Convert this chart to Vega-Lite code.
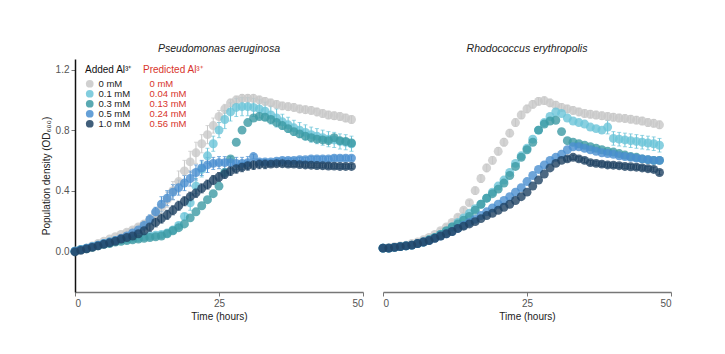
{
"$schema":"https://vega.github.io/schema/vega-lite/v6.json",
"background":"white",
"padding":{"left":41,"top":43,"right":5,"bottom":5},
"config":{"font":"Liberation Sans","view":{"stroke":null},"concat":{"spacing":20}},
"bounds":"flush",
"data":{"values":[
{"s":"P","c":"0 mM","p":"0 mM","t":0,"v":0},{"s":"P","c":"0 mM","p":"0 mM","t":1,"v":0.01},{"s":"P","c":"0 mM","p":"0 mM","t":2,"v":0.02},{"s":"P","c":"0 mM","p":"0 mM","t":3,"v":0.035},{"s":"P","c":"0 mM","p":"0 mM","t":4,"v":0.05},{"s":"P","c":"0 mM","p":"0 mM","t":5,"v":0.065},{"s":"P","c":"0 mM","p":"0 mM","t":6,"v":0.08},{"s":"P","c":"0 mM","p":"0 mM","t":7,"v":0.095},{"s":"P","c":"0 mM","p":"0 mM","t":8,"v":0.11},{"s":"P","c":"0 mM","p":"0 mM","t":9,"v":0.125,"e":0.015},{"s":"P","c":"0 mM","p":"0 mM","t":10,"v":0.14,"e":0.015},{"s":"P","c":"0 mM","p":"0 mM","t":11,"v":0.16,"e":0.015},{"s":"P","c":"0 mM","p":"0 mM","t":12,"v":0.18,"e":0.015},{"s":"P","c":"0 mM","p":"0 mM","t":13,"v":0.21,"e":0.02},{"s":"P","c":"0 mM","p":"0 mM","t":14,"v":0.25,"e":0.03},{"s":"P","c":"0 mM","p":"0 mM","t":15,"v":0.29,"e":0.04},{"s":"P","c":"0 mM","p":"0 mM","t":16,"v":0.34,"e":0.05},{"s":"P","c":"0 mM","p":"0 mM","t":17,"v":0.40,"e":0.06},{"s":"P","c":"0 mM","p":"0 mM","t":18,"v":0.46,"e":0.07},{"s":"P","c":"0 mM","p":"0 mM","t":19,"v":0.53,"e":0.07},{"s":"P","c":"0 mM","p":"0 mM","t":20,"v":0.59,"e":0.07},{"s":"P","c":"0 mM","p":"0 mM","t":21,"v":0.65,"e":0.07},{"s":"P","c":"0 mM","p":"0 mM","t":22,"v":0.71,"e":0.06},{"s":"P","c":"0 mM","p":"0 mM","t":23,"v":0.77,"e":0.06},{"s":"P","c":"0 mM","p":"0 mM","t":24,"v":0.83,"e":0.05},{"s":"P","c":"0 mM","p":"0 mM","t":25,"v":0.89,"e":0.04},{"s":"P","c":"0 mM","p":"0 mM","t":26,"v":0.94,"e":0.03},{"s":"P","c":"0 mM","p":"0 mM","t":27,"v":0.98,"e":0.025},{"s":"P","c":"0 mM","p":"0 mM","t":28,"v":1.0,"e":0.025},{"s":"P","c":"0 mM","p":"0 mM","t":29,"v":1.01,"e":0.025},{"s":"P","c":"0 mM","p":"0 mM","t":30,"v":1.01,"e":0.025},{"s":"P","c":"0 mM","p":"0 mM","t":31,"v":1.01,"e":0.025},{"s":"P","c":"0 mM","p":"0 mM","t":32,"v":1.0,"e":0.025},{"s":"P","c":"0 mM","p":"0 mM","t":33,"v":0.99,"e":0.025},{"s":"P","c":"0 mM","p":"0 mM","t":34,"v":0.98,"e":0.025},{"s":"P","c":"0 mM","p":"0 mM","t":35,"v":0.97,"e":0.025},{"s":"P","c":"0 mM","p":"0 mM","t":36,"v":0.96,"e":0.025},{"s":"P","c":"0 mM","p":"0 mM","t":37,"v":0.955,"e":0.025},{"s":"P","c":"0 mM","p":"0 mM","t":38,"v":0.95,"e":0.025},{"s":"P","c":"0 mM","p":"0 mM","t":39,"v":0.94,"e":0.025},{"s":"P","c":"0 mM","p":"0 mM","t":40,"v":0.935,"e":0.025},{"s":"P","c":"0 mM","p":"0 mM","t":41,"v":0.93,"e":0.025},{"s":"P","c":"0 mM","p":"0 mM","t":42,"v":0.92,"e":0.025},{"s":"P","c":"0 mM","p":"0 mM","t":43,"v":0.91,"e":0.025},{"s":"P","c":"0 mM","p":"0 mM","t":44,"v":0.90,"e":0.025},{"s":"P","c":"0 mM","p":"0 mM","t":45,"v":0.895,"e":0.025},{"s":"P","c":"0 mM","p":"0 mM","t":46,"v":0.89,"e":0.025},{"s":"P","c":"0 mM","p":"0 mM","t":47,"v":0.88,"e":0.025},{"s":"P","c":"0 mM","p":"0 mM","t":48,"v":0.87,"e":0.025},
{"s":"P","c":"0.1 mM","p":"0.04 mM","t":0,"v":0},{"s":"P","c":"0.1 mM","p":"0.04 mM","t":1,"v":0.01},{"s":"P","c":"0.1 mM","p":"0.04 mM","t":2,"v":0.02},{"s":"P","c":"0.1 mM","p":"0.04 mM","t":3,"v":0.03},{"s":"P","c":"0.1 mM","p":"0.04 mM","t":4,"v":0.04},{"s":"P","c":"0.1 mM","p":"0.04 mM","t":5,"v":0.05},{"s":"P","c":"0.1 mM","p":"0.04 mM","t":6,"v":0.06},{"s":"P","c":"0.1 mM","p":"0.04 mM","t":7,"v":0.07},{"s":"P","c":"0.1 mM","p":"0.04 mM","t":8,"v":0.075},{"s":"P","c":"0.1 mM","p":"0.04 mM","t":9,"v":0.08},{"s":"P","c":"0.1 mM","p":"0.04 mM","t":10,"v":0.085},{"s":"P","c":"0.1 mM","p":"0.04 mM","t":11,"v":0.09},{"s":"P","c":"0.1 mM","p":"0.04 mM","t":12,"v":0.095},{"s":"P","c":"0.1 mM","p":"0.04 mM","t":13,"v":0.10},{"s":"P","c":"0.1 mM","p":"0.04 mM","t":14,"v":0.105},{"s":"P","c":"0.1 mM","p":"0.04 mM","t":15,"v":0.11,"e":0.02},{"s":"P","c":"0.1 mM","p":"0.04 mM","t":16,"v":0.12,"e":0.02},{"s":"P","c":"0.1 mM","p":"0.04 mM","t":17,"v":0.14,"e":0.02},{"s":"P","c":"0.1 mM","p":"0.04 mM","t":18,"v":0.17,"e":0.02},{"s":"P","c":"0.1 mM","p":"0.04 mM","t":19,"v":0.23,"e":0.02},{"s":"P","c":"0.1 mM","p":"0.04 mM","t":20,"v":0.32,"e":0.05},{"s":"P","c":"0.1 mM","p":"0.04 mM","t":21,"v":0.43,"e":0.05},{"s":"P","c":"0.1 mM","p":"0.04 mM","t":22,"v":0.54,"e":0.05},{"s":"P","c":"0.1 mM","p":"0.04 mM","t":23,"v":0.63,"e":0.05},{"s":"P","c":"0.1 mM","p":"0.04 mM","t":24,"v":0.71,"e":0.05},{"s":"P","c":"0.1 mM","p":"0.04 mM","t":25,"v":0.80,"e":0.05},{"s":"P","c":"0.1 mM","p":"0.04 mM","t":26,"v":0.87,"e":0.06},{"s":"P","c":"0.1 mM","p":"0.04 mM","t":27,"v":0.92,"e":0.06},{"s":"P","c":"0.1 mM","p":"0.04 mM","t":28,"v":0.95,"e":0.06},{"s":"P","c":"0.1 mM","p":"0.04 mM","t":29,"v":0.955,"e":0.06},{"s":"P","c":"0.1 mM","p":"0.04 mM","t":30,"v":0.955,"e":0.06},{"s":"P","c":"0.1 mM","p":"0.04 mM","t":31,"v":0.95,"e":0.06},{"s":"P","c":"0.1 mM","p":"0.04 mM","t":32,"v":0.94,"e":0.06},{"s":"P","c":"0.1 mM","p":"0.04 mM","t":33,"v":0.925,"e":0.06},{"s":"P","c":"0.1 mM","p":"0.04 mM","t":34,"v":0.90,"e":0.06},{"s":"P","c":"0.1 mM","p":"0.04 mM","t":35,"v":0.88,"e":0.06},{"s":"P","c":"0.1 mM","p":"0.04 mM","t":36,"v":0.855,"e":0.05},{"s":"P","c":"0.1 mM","p":"0.04 mM","t":37,"v":0.835,"e":0.05},{"s":"P","c":"0.1 mM","p":"0.04 mM","t":38,"v":0.815,"e":0.05},{"s":"P","c":"0.1 mM","p":"0.04 mM","t":39,"v":0.80,"e":0.05},{"s":"P","c":"0.1 mM","p":"0.04 mM","t":40,"v":0.785,"e":0.05},{"s":"P","c":"0.1 mM","p":"0.04 mM","t":41,"v":0.77,"e":0.05},{"s":"P","c":"0.1 mM","p":"0.04 mM","t":42,"v":0.76,"e":0.05},{"s":"P","c":"0.1 mM","p":"0.04 mM","t":43,"v":0.75,"e":0.05},{"s":"P","c":"0.1 mM","p":"0.04 mM","t":44,"v":0.74,"e":0.05},{"s":"P","c":"0.1 mM","p":"0.04 mM","t":45,"v":0.735,"e":0.05},{"s":"P","c":"0.1 mM","p":"0.04 mM","t":46,"v":0.725,"e":0.05},{"s":"P","c":"0.1 mM","p":"0.04 mM","t":47,"v":0.72,"e":0.05},{"s":"P","c":"0.1 mM","p":"0.04 mM","t":48,"v":0.71,"e":0.05},
{"s":"P","c":"0.3 mM","p":"0.13 mM","t":0,"v":0},{"s":"P","c":"0.3 mM","p":"0.13 mM","t":1,"v":0.01},{"s":"P","c":"0.3 mM","p":"0.13 mM","t":2,"v":0.015},{"s":"P","c":"0.3 mM","p":"0.13 mM","t":3,"v":0.025},{"s":"P","c":"0.3 mM","p":"0.13 mM","t":4,"v":0.035},{"s":"P","c":"0.3 mM","p":"0.13 mM","t":5,"v":0.045},{"s":"P","c":"0.3 mM","p":"0.13 mM","t":6,"v":0.05},{"s":"P","c":"0.3 mM","p":"0.13 mM","t":7,"v":0.06},{"s":"P","c":"0.3 mM","p":"0.13 mM","t":8,"v":0.065},{"s":"P","c":"0.3 mM","p":"0.13 mM","t":9,"v":0.07},{"s":"P","c":"0.3 mM","p":"0.13 mM","t":10,"v":0.075},{"s":"P","c":"0.3 mM","p":"0.13 mM","t":11,"v":0.08},{"s":"P","c":"0.3 mM","p":"0.13 mM","t":12,"v":0.085},{"s":"P","c":"0.3 mM","p":"0.13 mM","t":13,"v":0.09},{"s":"P","c":"0.3 mM","p":"0.13 mM","t":14,"v":0.095},{"s":"P","c":"0.3 mM","p":"0.13 mM","t":15,"v":0.10},{"s":"P","c":"0.3 mM","p":"0.13 mM","t":16,"v":0.115},{"s":"P","c":"0.3 mM","p":"0.13 mM","t":17,"v":0.135},{"s":"P","c":"0.3 mM","p":"0.13 mM","t":18,"v":0.155},{"s":"P","c":"0.3 mM","p":"0.13 mM","t":19,"v":0.18},{"s":"P","c":"0.3 mM","p":"0.13 mM","t":20,"v":0.22},{"s":"P","c":"0.3 mM","p":"0.13 mM","t":21,"v":0.26},{"s":"P","c":"0.3 mM","p":"0.13 mM","t":22,"v":0.30},{"s":"P","c":"0.3 mM","p":"0.13 mM","t":23,"v":0.34},{"s":"P","c":"0.3 mM","p":"0.13 mM","t":24,"v":0.38},{"s":"P","c":"0.3 mM","p":"0.13 mM","t":25,"v":0.43},{"s":"P","c":"0.3 mM","p":"0.13 mM","t":26,"v":0.52},{"s":"P","c":"0.3 mM","p":"0.13 mM","t":27,"v":0.61},{"s":"P","c":"0.3 mM","p":"0.13 mM","t":28,"v":0.72},{"s":"P","c":"0.3 mM","p":"0.13 mM","t":29,"v":0.80},{"s":"P","c":"0.3 mM","p":"0.13 mM","t":30,"v":0.85},{"s":"P","c":"0.3 mM","p":"0.13 mM","t":31,"v":0.88},{"s":"P","c":"0.3 mM","p":"0.13 mM","t":32,"v":0.89},{"s":"P","c":"0.3 mM","p":"0.13 mM","t":33,"v":0.885},{"s":"P","c":"0.3 mM","p":"0.13 mM","t":34,"v":0.87},{"s":"P","c":"0.3 mM","p":"0.13 mM","t":35,"v":0.85},{"s":"P","c":"0.3 mM","p":"0.13 mM","t":36,"v":0.83},{"s":"P","c":"0.3 mM","p":"0.13 mM","t":37,"v":0.81},{"s":"P","c":"0.3 mM","p":"0.13 mM","t":38,"v":0.79},{"s":"P","c":"0.3 mM","p":"0.13 mM","t":39,"v":0.775},{"s":"P","c":"0.3 mM","p":"0.13 mM","t":40,"v":0.76},{"s":"P","c":"0.3 mM","p":"0.13 mM","t":41,"v":0.75},{"s":"P","c":"0.3 mM","p":"0.13 mM","t":42,"v":0.74},{"s":"P","c":"0.3 mM","p":"0.13 mM","t":43,"v":0.735},{"s":"P","c":"0.3 mM","p":"0.13 mM","t":44,"v":0.73},{"s":"P","c":"0.3 mM","p":"0.13 mM","t":45,"v":0.75},{"s":"P","c":"0.3 mM","p":"0.13 mM","t":46,"v":0.73},{"s":"P","c":"0.3 mM","p":"0.13 mM","t":47,"v":0.725},{"s":"P","c":"0.3 mM","p":"0.13 mM","t":48,"v":0.715},
{"s":"P","c":"0.5 mM","p":"0.24 mM","t":0,"v":0},{"s":"P","c":"0.5 mM","p":"0.24 mM","t":1,"v":0.01},{"s":"P","c":"0.5 mM","p":"0.24 mM","t":2,"v":0.02},{"s":"P","c":"0.5 mM","p":"0.24 mM","t":3,"v":0.03},{"s":"P","c":"0.5 mM","p":"0.24 mM","t":4,"v":0.04},{"s":"P","c":"0.5 mM","p":"0.24 mM","t":5,"v":0.05},{"s":"P","c":"0.5 mM","p":"0.24 mM","t":6,"v":0.06},{"s":"P","c":"0.5 mM","p":"0.24 mM","t":7,"v":0.07},{"s":"P","c":"0.5 mM","p":"0.24 mM","t":8,"v":0.085},{"s":"P","c":"0.5 mM","p":"0.24 mM","t":9,"v":0.10},{"s":"P","c":"0.5 mM","p":"0.24 mM","t":10,"v":0.12},{"s":"P","c":"0.5 mM","p":"0.24 mM","t":11,"v":0.14},{"s":"P","c":"0.5 mM","p":"0.24 mM","t":12,"v":0.17,"e":0.03},{"s":"P","c":"0.5 mM","p":"0.24 mM","t":13,"v":0.21,"e":0.03},{"s":"P","c":"0.5 mM","p":"0.24 mM","t":14,"v":0.26,"e":0.03},{"s":"P","c":"0.5 mM","p":"0.24 mM","t":15,"v":0.31,"e":0.05},{"s":"P","c":"0.5 mM","p":"0.24 mM","t":16,"v":0.35,"e":0.05},{"s":"P","c":"0.5 mM","p":"0.24 mM","t":17,"v":0.39,"e":0.05},{"s":"P","c":"0.5 mM","p":"0.24 mM","t":18,"v":0.42,"e":0.05},{"s":"P","c":"0.5 mM","p":"0.24 mM","t":19,"v":0.45,"e":0.05},{"s":"P","c":"0.5 mM","p":"0.24 mM","t":20,"v":0.48,"e":0.05},{"s":"P","c":"0.5 mM","p":"0.24 mM","t":21,"v":0.52,"e":0.05},{"s":"P","c":"0.5 mM","p":"0.24 mM","t":22,"v":0.55,"e":0.05},{"s":"P","c":"0.5 mM","p":"0.24 mM","t":23,"v":0.57,"e":0.05},{"s":"P","c":"0.5 mM","p":"0.24 mM","t":24,"v":0.58,"e":0.04},{"s":"P","c":"0.5 mM","p":"0.24 mM","t":25,"v":0.585,"e":0.04},{"s":"P","c":"0.5 mM","p":"0.24 mM","t":26,"v":0.585,"e":0.04},{"s":"P","c":"0.5 mM","p":"0.24 mM","t":27,"v":0.585,"e":0.04},{"s":"P","c":"0.5 mM","p":"0.24 mM","t":28,"v":0.58,"e":0.04},{"s":"P","c":"0.5 mM","p":"0.24 mM","t":29,"v":0.58,"e":0.04},{"s":"P","c":"0.5 mM","p":"0.24 mM","t":30,"v":0.585,"e":0.04},{"s":"P","c":"0.5 mM","p":"0.24 mM","t":31,"v":0.625,"e":0.015},{"s":"P","c":"0.5 mM","p":"0.24 mM","t":32,"v":0.59,"e":0.015},{"s":"P","c":"0.5 mM","p":"0.24 mM","t":33,"v":0.59,"e":0.015},{"s":"P","c":"0.5 mM","p":"0.24 mM","t":34,"v":0.59,"e":0.015},{"s":"P","c":"0.5 mM","p":"0.24 mM","t":35,"v":0.595,"e":0.015},{"s":"P","c":"0.5 mM","p":"0.24 mM","t":36,"v":0.60,"e":0.015},{"s":"P","c":"0.5 mM","p":"0.24 mM","t":37,"v":0.60,"e":0.015},{"s":"P","c":"0.5 mM","p":"0.24 mM","t":38,"v":0.60,"e":0.015},{"s":"P","c":"0.5 mM","p":"0.24 mM","t":39,"v":0.605,"e":0.015},{"s":"P","c":"0.5 mM","p":"0.24 mM","t":40,"v":0.605,"e":0.015},{"s":"P","c":"0.5 mM","p":"0.24 mM","t":41,"v":0.61,"e":0.015},{"s":"P","c":"0.5 mM","p":"0.24 mM","t":42,"v":0.61,"e":0.015},{"s":"P","c":"0.5 mM","p":"0.24 mM","t":43,"v":0.61,"e":0.015},{"s":"P","c":"0.5 mM","p":"0.24 mM","t":44,"v":0.61,"e":0.015},{"s":"P","c":"0.5 mM","p":"0.24 mM","t":45,"v":0.615,"e":0.015},{"s":"P","c":"0.5 mM","p":"0.24 mM","t":46,"v":0.615,"e":0.015},{"s":"P","c":"0.5 mM","p":"0.24 mM","t":47,"v":0.615,"e":0.015},{"s":"P","c":"0.5 mM","p":"0.24 mM","t":48,"v":0.615,"e":0.015},
{"s":"P","c":"1.0 mM","p":"0.56 mM","t":0,"v":-0.005},{"s":"P","c":"1.0 mM","p":"0.56 mM","t":1,"v":0.005},{"s":"P","c":"1.0 mM","p":"0.56 mM","t":2,"v":0.015},{"s":"P","c":"1.0 mM","p":"0.56 mM","t":3,"v":0.025},{"s":"P","c":"1.0 mM","p":"0.56 mM","t":4,"v":0.035},{"s":"P","c":"1.0 mM","p":"0.56 mM","t":5,"v":0.045},{"s":"P","c":"1.0 mM","p":"0.56 mM","t":6,"v":0.055},{"s":"P","c":"1.0 mM","p":"0.56 mM","t":7,"v":0.065},{"s":"P","c":"1.0 mM","p":"0.56 mM","t":8,"v":0.08},{"s":"P","c":"1.0 mM","p":"0.56 mM","t":9,"v":0.09},{"s":"P","c":"1.0 mM","p":"0.56 mM","t":10,"v":0.10},{"s":"P","c":"1.0 mM","p":"0.56 mM","t":11,"v":0.115},{"s":"P","c":"1.0 mM","p":"0.56 mM","t":12,"v":0.135,"e":0.03},{"s":"P","c":"1.0 mM","p":"0.56 mM","t":13,"v":0.16,"e":0.03},{"s":"P","c":"1.0 mM","p":"0.56 mM","t":14,"v":0.19,"e":0.03},{"s":"P","c":"1.0 mM","p":"0.56 mM","t":15,"v":0.215,"e":0.03},{"s":"P","c":"1.0 mM","p":"0.56 mM","t":16,"v":0.24,"e":0.03},{"s":"P","c":"1.0 mM","p":"0.56 mM","t":17,"v":0.27,"e":0.03},{"s":"P","c":"1.0 mM","p":"0.56 mM","t":18,"v":0.30,"e":0.03},{"s":"P","c":"1.0 mM","p":"0.56 mM","t":19,"v":0.33,"e":0.03},{"s":"P","c":"1.0 mM","p":"0.56 mM","t":20,"v":0.36,"e":0.03},{"s":"P","c":"1.0 mM","p":"0.56 mM","t":21,"v":0.385,"e":0.03},{"s":"P","c":"1.0 mM","p":"0.56 mM","t":22,"v":0.415,"e":0.03},{"s":"P","c":"1.0 mM","p":"0.56 mM","t":23,"v":0.44,"e":0.03},{"s":"P","c":"1.0 mM","p":"0.56 mM","t":24,"v":0.47,"e":0.03},{"s":"P","c":"1.0 mM","p":"0.56 mM","t":25,"v":0.49,"e":0.03},{"s":"P","c":"1.0 mM","p":"0.56 mM","t":26,"v":0.51,"e":0.03},{"s":"P","c":"1.0 mM","p":"0.56 mM","t":27,"v":0.53,"e":0.03},{"s":"P","c":"1.0 mM","p":"0.56 mM","t":28,"v":0.545,"e":0.03},{"s":"P","c":"1.0 mM","p":"0.56 mM","t":29,"v":0.555,"e":0.03},{"s":"P","c":"1.0 mM","p":"0.56 mM","t":30,"v":0.565,"e":0.03},{"s":"P","c":"1.0 mM","p":"0.56 mM","t":31,"v":0.57,"e":0.03},{"s":"P","c":"1.0 mM","p":"0.56 mM","t":32,"v":0.575,"e":0.03},{"s":"P","c":"1.0 mM","p":"0.56 mM","t":33,"v":0.575,"e":0.03},{"s":"P","c":"1.0 mM","p":"0.56 mM","t":34,"v":0.575,"e":0.015},{"s":"P","c":"1.0 mM","p":"0.56 mM","t":35,"v":0.578,"e":0.015},{"s":"P","c":"1.0 mM","p":"0.56 mM","t":36,"v":0.578,"e":0.015},{"s":"P","c":"1.0 mM","p":"0.56 mM","t":37,"v":0.575,"e":0.015},{"s":"P","c":"1.0 mM","p":"0.56 mM","t":38,"v":0.575,"e":0.015},{"s":"P","c":"1.0 mM","p":"0.56 mM","t":39,"v":0.572,"e":0.015},{"s":"P","c":"1.0 mM","p":"0.56 mM","t":40,"v":0.57,"e":0.015},{"s":"P","c":"1.0 mM","p":"0.56 mM","t":41,"v":0.568,"e":0.015},{"s":"P","c":"1.0 mM","p":"0.56 mM","t":42,"v":0.566,"e":0.015},{"s":"P","c":"1.0 mM","p":"0.56 mM","t":43,"v":0.565,"e":0.015},{"s":"P","c":"1.0 mM","p":"0.56 mM","t":44,"v":0.563,"e":0.015},{"s":"P","c":"1.0 mM","p":"0.56 mM","t":45,"v":0.562,"e":0.015},{"s":"P","c":"1.0 mM","p":"0.56 mM","t":46,"v":0.56,"e":0.015},{"s":"P","c":"1.0 mM","p":"0.56 mM","t":47,"v":0.56,"e":0.015},{"s":"P","c":"1.0 mM","p":"0.56 mM","t":48,"v":0.56,"e":0.015},
{"s":"R","c":"0 mM","p":"0 mM","t":0,"v":0.02},{"s":"R","c":"0 mM","p":"0 mM","t":1,"v":0.025},{"s":"R","c":"0 mM","p":"0 mM","t":2,"v":0.03},{"s":"R","c":"0 mM","p":"0 mM","t":3,"v":0.035},{"s":"R","c":"0 mM","p":"0 mM","t":4,"v":0.04},{"s":"R","c":"0 mM","p":"0 mM","t":5,"v":0.05},{"s":"R","c":"0 mM","p":"0 mM","t":6,"v":0.06},{"s":"R","c":"0 mM","p":"0 mM","t":7,"v":0.075},{"s":"R","c":"0 mM","p":"0 mM","t":8,"v":0.09},{"s":"R","c":"0 mM","p":"0 mM","t":9,"v":0.11},{"s":"R","c":"0 mM","p":"0 mM","t":10,"v":0.135,"e":0.015},{"s":"R","c":"0 mM","p":"0 mM","t":11,"v":0.16,"e":0.015},{"s":"R","c":"0 mM","p":"0 mM","t":12,"v":0.19,"e":0.015},{"s":"R","c":"0 mM","p":"0 mM","t":13,"v":0.225,"e":0.015},{"s":"R","c":"0 mM","p":"0 mM","t":14,"v":0.27,"e":0.015},{"s":"R","c":"0 mM","p":"0 mM","t":15,"v":0.32,"e":0.015},{"s":"R","c":"0 mM","p":"0 mM","t":16,"v":0.40,"e":0.025},{"s":"R","c":"0 mM","p":"0 mM","t":17,"v":0.48,"e":0.025},{"s":"R","c":"0 mM","p":"0 mM","t":18,"v":0.55,"e":0.025},{"s":"R","c":"0 mM","p":"0 mM","t":19,"v":0.60,"e":0.025},{"s":"R","c":"0 mM","p":"0 mM","t":20,"v":0.66,"e":0.025},{"s":"R","c":"0 mM","p":"0 mM","t":21,"v":0.72,"e":0.025},{"s":"R","c":"0 mM","p":"0 mM","t":22,"v":0.78,"e":0.025},{"s":"R","c":"0 mM","p":"0 mM","t":23,"v":0.85,"e":0.025},{"s":"R","c":"0 mM","p":"0 mM","t":24,"v":0.90,"e":0.025},{"s":"R","c":"0 mM","p":"0 mM","t":25,"v":0.94,"e":0.025},{"s":"R","c":"0 mM","p":"0 mM","t":26,"v":0.97,"e":0.025},{"s":"R","c":"0 mM","p":"0 mM","t":27,"v":0.99,"e":0.025},{"s":"R","c":"0 mM","p":"0 mM","t":28,"v":0.995,"e":0.025},{"s":"R","c":"0 mM","p":"0 mM","t":29,"v":0.98,"e":0.025},{"s":"R","c":"0 mM","p":"0 mM","t":30,"v":0.965,"e":0.025},{"s":"R","c":"0 mM","p":"0 mM","t":31,"v":0.95,"e":0.025},{"s":"R","c":"0 mM","p":"0 mM","t":32,"v":0.94,"e":0.025},{"s":"R","c":"0 mM","p":"0 mM","t":33,"v":0.93,"e":0.025},{"s":"R","c":"0 mM","p":"0 mM","t":34,"v":0.92,"e":0.025},{"s":"R","c":"0 mM","p":"0 mM","t":35,"v":0.91,"e":0.025},{"s":"R","c":"0 mM","p":"0 mM","t":36,"v":0.905,"e":0.025},{"s":"R","c":"0 mM","p":"0 mM","t":37,"v":0.90,"e":0.025},{"s":"R","c":"0 mM","p":"0 mM","t":38,"v":0.895,"e":0.025},{"s":"R","c":"0 mM","p":"0 mM","t":39,"v":0.89,"e":0.025},{"s":"R","c":"0 mM","p":"0 mM","t":40,"v":0.885,"e":0.025},{"s":"R","c":"0 mM","p":"0 mM","t":41,"v":0.88,"e":0.025},{"s":"R","c":"0 mM","p":"0 mM","t":42,"v":0.877,"e":0.025},{"s":"R","c":"0 mM","p":"0 mM","t":43,"v":0.872,"e":0.025},{"s":"R","c":"0 mM","p":"0 mM","t":44,"v":0.866,"e":0.025},{"s":"R","c":"0 mM","p":"0 mM","t":45,"v":0.86,"e":0.025},{"s":"R","c":"0 mM","p":"0 mM","t":46,"v":0.85,"e":0.025},{"s":"R","c":"0 mM","p":"0 mM","t":47,"v":0.845,"e":0.025},{"s":"R","c":"0 mM","p":"0 mM","t":48,"v":0.835,"e":0.025},
{"s":"R","c":"0.1 mM","p":"0.04 mM","t":0,"v":0.02},{"s":"R","c":"0.1 mM","p":"0.04 mM","t":1,"v":0.02},{"s":"R","c":"0.1 mM","p":"0.04 mM","t":2,"v":0.025},{"s":"R","c":"0.1 mM","p":"0.04 mM","t":3,"v":0.03},{"s":"R","c":"0.1 mM","p":"0.04 mM","t":4,"v":0.035},{"s":"R","c":"0.1 mM","p":"0.04 mM","t":5,"v":0.04},{"s":"R","c":"0.1 mM","p":"0.04 mM","t":6,"v":0.05},{"s":"R","c":"0.1 mM","p":"0.04 mM","t":7,"v":0.06},{"s":"R","c":"0.1 mM","p":"0.04 mM","t":8,"v":0.075},{"s":"R","c":"0.1 mM","p":"0.04 mM","t":9,"v":0.09},{"s":"R","c":"0.1 mM","p":"0.04 mM","t":10,"v":0.11},{"s":"R","c":"0.1 mM","p":"0.04 mM","t":11,"v":0.13},{"s":"R","c":"0.1 mM","p":"0.04 mM","t":12,"v":0.16},{"s":"R","c":"0.1 mM","p":"0.04 mM","t":13,"v":0.19},{"s":"R","c":"0.1 mM","p":"0.04 mM","t":14,"v":0.22},{"s":"R","c":"0.1 mM","p":"0.04 mM","t":15,"v":0.25},{"s":"R","c":"0.1 mM","p":"0.04 mM","t":16,"v":0.28},{"s":"R","c":"0.1 mM","p":"0.04 mM","t":17,"v":0.31},{"s":"R","c":"0.1 mM","p":"0.04 mM","t":18,"v":0.35},{"s":"R","c":"0.1 mM","p":"0.04 mM","t":19,"v":0.39},{"s":"R","c":"0.1 mM","p":"0.04 mM","t":20,"v":0.43},{"s":"R","c":"0.1 mM","p":"0.04 mM","t":21,"v":0.47},{"s":"R","c":"0.1 mM","p":"0.04 mM","t":22,"v":0.52},{"s":"R","c":"0.1 mM","p":"0.04 mM","t":23,"v":0.58},{"s":"R","c":"0.1 mM","p":"0.04 mM","t":24,"v":0.63},{"s":"R","c":"0.1 mM","p":"0.04 mM","t":25,"v":0.68},{"s":"R","c":"0.1 mM","p":"0.04 mM","t":26,"v":0.74},{"s":"R","c":"0.1 mM","p":"0.04 mM","t":27,"v":0.80},{"s":"R","c":"0.1 mM","p":"0.04 mM","t":28,"v":0.85},{"s":"R","c":"0.1 mM","p":"0.04 mM","t":29,"v":0.89},{"s":"R","c":"0.1 mM","p":"0.04 mM","t":30,"v":0.92},{"s":"R","c":"0.1 mM","p":"0.04 mM","t":31,"v":0.91},{"s":"R","c":"0.1 mM","p":"0.04 mM","t":32,"v":0.88},{"s":"R","c":"0.1 mM","p":"0.04 mM","t":33,"v":0.86},{"s":"R","c":"0.1 mM","p":"0.04 mM","t":34,"v":0.85},{"s":"R","c":"0.1 mM","p":"0.04 mM","t":35,"v":0.84},{"s":"R","c":"0.1 mM","p":"0.04 mM","t":36,"v":0.82},{"s":"R","c":"0.1 mM","p":"0.04 mM","t":37,"v":0.81},{"s":"R","c":"0.1 mM","p":"0.04 mM","t":38,"v":0.80},{"s":"R","c":"0.1 mM","p":"0.04 mM","t":39,"v":0.82,"e":0.045},{"s":"R","c":"0.1 mM","p":"0.04 mM","t":40,"v":0.745,"e":0.045},{"s":"R","c":"0.1 mM","p":"0.04 mM","t":41,"v":0.74,"e":0.045},{"s":"R","c":"0.1 mM","p":"0.04 mM","t":42,"v":0.735,"e":0.045},{"s":"R","c":"0.1 mM","p":"0.04 mM","t":43,"v":0.73,"e":0.045},{"s":"R","c":"0.1 mM","p":"0.04 mM","t":44,"v":0.725,"e":0.045},{"s":"R","c":"0.1 mM","p":"0.04 mM","t":45,"v":0.72,"e":0.045},{"s":"R","c":"0.1 mM","p":"0.04 mM","t":46,"v":0.715,"e":0.045},{"s":"R","c":"0.1 mM","p":"0.04 mM","t":47,"v":0.71,"e":0.045},{"s":"R","c":"0.1 mM","p":"0.04 mM","t":48,"v":0.70,"e":0.045},
{"s":"R","c":"0.3 mM","p":"0.13 mM","t":0,"v":0.02},{"s":"R","c":"0.3 mM","p":"0.13 mM","t":1,"v":0.02},{"s":"R","c":"0.3 mM","p":"0.13 mM","t":2,"v":0.025},{"s":"R","c":"0.3 mM","p":"0.13 mM","t":3,"v":0.03},{"s":"R","c":"0.3 mM","p":"0.13 mM","t":4,"v":0.035},{"s":"R","c":"0.3 mM","p":"0.13 mM","t":5,"v":0.04},{"s":"R","c":"0.3 mM","p":"0.13 mM","t":6,"v":0.05},{"s":"R","c":"0.3 mM","p":"0.13 mM","t":7,"v":0.06},{"s":"R","c":"0.3 mM","p":"0.13 mM","t":8,"v":0.075},{"s":"R","c":"0.3 mM","p":"0.13 mM","t":9,"v":0.09},{"s":"R","c":"0.3 mM","p":"0.13 mM","t":10,"v":0.11},{"s":"R","c":"0.3 mM","p":"0.13 mM","t":11,"v":0.135},{"s":"R","c":"0.3 mM","p":"0.13 mM","t":12,"v":0.16},{"s":"R","c":"0.3 mM","p":"0.13 mM","t":13,"v":0.18},{"s":"R","c":"0.3 mM","p":"0.13 mM","t":14,"v":0.205},{"s":"R","c":"0.3 mM","p":"0.13 mM","t":15,"v":0.23},{"s":"R","c":"0.3 mM","p":"0.13 mM","t":16,"v":0.27},{"s":"R","c":"0.3 mM","p":"0.13 mM","t":17,"v":0.31},{"s":"R","c":"0.3 mM","p":"0.13 mM","t":18,"v":0.35},{"s":"R","c":"0.3 mM","p":"0.13 mM","t":19,"v":0.38},{"s":"R","c":"0.3 mM","p":"0.13 mM","t":20,"v":0.41},{"s":"R","c":"0.3 mM","p":"0.13 mM","t":21,"v":0.45},{"s":"R","c":"0.3 mM","p":"0.13 mM","t":22,"v":0.50},{"s":"R","c":"0.3 mM","p":"0.13 mM","t":23,"v":0.56},{"s":"R","c":"0.3 mM","p":"0.13 mM","t":24,"v":0.62},{"s":"R","c":"0.3 mM","p":"0.13 mM","t":25,"v":0.67},{"s":"R","c":"0.3 mM","p":"0.13 mM","t":26,"v":0.72},{"s":"R","c":"0.3 mM","p":"0.13 mM","t":27,"v":0.80},{"s":"R","c":"0.3 mM","p":"0.13 mM","t":28,"v":0.84},{"s":"R","c":"0.3 mM","p":"0.13 mM","t":29,"v":0.86},{"s":"R","c":"0.3 mM","p":"0.13 mM","t":30,"v":0.865},{"s":"R","c":"0.3 mM","p":"0.13 mM","t":31,"v":0.79},{"s":"R","c":"0.3 mM","p":"0.13 mM","t":32,"v":0.73},{"s":"R","c":"0.3 mM","p":"0.13 mM","t":33,"v":0.72},{"s":"R","c":"0.3 mM","p":"0.13 mM","t":34,"v":0.71},{"s":"R","c":"0.3 mM","p":"0.13 mM","t":35,"v":0.70},{"s":"R","c":"0.3 mM","p":"0.13 mM","t":36,"v":0.69},{"s":"R","c":"0.3 mM","p":"0.13 mM","t":37,"v":0.68},{"s":"R","c":"0.3 mM","p":"0.13 mM","t":38,"v":0.67},{"s":"R","c":"0.3 mM","p":"0.13 mM","t":39,"v":0.66},{"s":"R","c":"0.3 mM","p":"0.13 mM","t":40,"v":0.655},{"s":"R","c":"0.3 mM","p":"0.13 mM","t":41,"v":0.645},{"s":"R","c":"0.3 mM","p":"0.13 mM","t":42,"v":0.635},{"s":"R","c":"0.3 mM","p":"0.13 mM","t":43,"v":0.625},{"s":"R","c":"0.3 mM","p":"0.13 mM","t":44,"v":0.62},{"s":"R","c":"0.3 mM","p":"0.13 mM","t":45,"v":0.61},{"s":"R","c":"0.3 mM","p":"0.13 mM","t":46,"v":0.605},{"s":"R","c":"0.3 mM","p":"0.13 mM","t":47,"v":0.60},{"s":"R","c":"0.3 mM","p":"0.13 mM","t":48,"v":0.60},
{"s":"R","c":"0.5 mM","p":"0.24 mM","t":0,"v":0.02},{"s":"R","c":"0.5 mM","p":"0.24 mM","t":1,"v":0.02},{"s":"R","c":"0.5 mM","p":"0.24 mM","t":2,"v":0.025},{"s":"R","c":"0.5 mM","p":"0.24 mM","t":3,"v":0.03},{"s":"R","c":"0.5 mM","p":"0.24 mM","t":4,"v":0.035},{"s":"R","c":"0.5 mM","p":"0.24 mM","t":5,"v":0.04},{"s":"R","c":"0.5 mM","p":"0.24 mM","t":6,"v":0.05},{"s":"R","c":"0.5 mM","p":"0.24 mM","t":7,"v":0.06},{"s":"R","c":"0.5 mM","p":"0.24 mM","t":8,"v":0.07},{"s":"R","c":"0.5 mM","p":"0.24 mM","t":9,"v":0.085},{"s":"R","c":"0.5 mM","p":"0.24 mM","t":10,"v":0.10},{"s":"R","c":"0.5 mM","p":"0.24 mM","t":11,"v":0.115},{"s":"R","c":"0.5 mM","p":"0.24 mM","t":12,"v":0.13},{"s":"R","c":"0.5 mM","p":"0.24 mM","t":13,"v":0.15},{"s":"R","c":"0.5 mM","p":"0.24 mM","t":14,"v":0.17},{"s":"R","c":"0.5 mM","p":"0.24 mM","t":15,"v":0.19},{"s":"R","c":"0.5 mM","p":"0.24 mM","t":16,"v":0.21},{"s":"R","c":"0.5 mM","p":"0.24 mM","t":17,"v":0.235},{"s":"R","c":"0.5 mM","p":"0.24 mM","t":18,"v":0.26},{"s":"R","c":"0.5 mM","p":"0.24 mM","t":19,"v":0.285},{"s":"R","c":"0.5 mM","p":"0.24 mM","t":20,"v":0.31},{"s":"R","c":"0.5 mM","p":"0.24 mM","t":21,"v":0.335},{"s":"R","c":"0.5 mM","p":"0.24 mM","t":22,"v":0.36},{"s":"R","c":"0.5 mM","p":"0.24 mM","t":23,"v":0.39},{"s":"R","c":"0.5 mM","p":"0.24 mM","t":24,"v":0.42},{"s":"R","c":"0.5 mM","p":"0.24 mM","t":25,"v":0.46},{"s":"R","c":"0.5 mM","p":"0.24 mM","t":26,"v":0.50},{"s":"R","c":"0.5 mM","p":"0.24 mM","t":27,"v":0.54},{"s":"R","c":"0.5 mM","p":"0.24 mM","t":28,"v":0.57},{"s":"R","c":"0.5 mM","p":"0.24 mM","t":29,"v":0.60},{"s":"R","c":"0.5 mM","p":"0.24 mM","t":30,"v":0.62},{"s":"R","c":"0.5 mM","p":"0.24 mM","t":31,"v":0.64},{"s":"R","c":"0.5 mM","p":"0.24 mM","t":32,"v":0.67},{"s":"R","c":"0.5 mM","p":"0.24 mM","t":33,"v":0.69},{"s":"R","c":"0.5 mM","p":"0.24 mM","t":34,"v":0.69},{"s":"R","c":"0.5 mM","p":"0.24 mM","t":35,"v":0.68},{"s":"R","c":"0.5 mM","p":"0.24 mM","t":36,"v":0.67},{"s":"R","c":"0.5 mM","p":"0.24 mM","t":37,"v":0.66},{"s":"R","c":"0.5 mM","p":"0.24 mM","t":38,"v":0.65},{"s":"R","c":"0.5 mM","p":"0.24 mM","t":39,"v":0.645},{"s":"R","c":"0.5 mM","p":"0.24 mM","t":40,"v":0.64},{"s":"R","c":"0.5 mM","p":"0.24 mM","t":41,"v":0.63},{"s":"R","c":"0.5 mM","p":"0.24 mM","t":42,"v":0.625},{"s":"R","c":"0.5 mM","p":"0.24 mM","t":43,"v":0.62},{"s":"R","c":"0.5 mM","p":"0.24 mM","t":44,"v":0.615},{"s":"R","c":"0.5 mM","p":"0.24 mM","t":45,"v":0.61},{"s":"R","c":"0.5 mM","p":"0.24 mM","t":46,"v":0.605},{"s":"R","c":"0.5 mM","p":"0.24 mM","t":47,"v":0.60},{"s":"R","c":"0.5 mM","p":"0.24 mM","t":48,"v":0.60},
{"s":"R","c":"1.0 mM","p":"0.56 mM","t":0,"v":0.02},{"s":"R","c":"1.0 mM","p":"0.56 mM","t":1,"v":0.02},{"s":"R","c":"1.0 mM","p":"0.56 mM","t":2,"v":0.025},{"s":"R","c":"1.0 mM","p":"0.56 mM","t":3,"v":0.03},{"s":"R","c":"1.0 mM","p":"0.56 mM","t":4,"v":0.035},{"s":"R","c":"1.0 mM","p":"0.56 mM","t":5,"v":0.04},{"s":"R","c":"1.0 mM","p":"0.56 mM","t":6,"v":0.05},{"s":"R","c":"1.0 mM","p":"0.56 mM","t":7,"v":0.06},{"s":"R","c":"1.0 mM","p":"0.56 mM","t":8,"v":0.07},{"s":"R","c":"1.0 mM","p":"0.56 mM","t":9,"v":0.085},{"s":"R","c":"1.0 mM","p":"0.56 mM","t":10,"v":0.10},{"s":"R","c":"1.0 mM","p":"0.56 mM","t":11,"v":0.115},{"s":"R","c":"1.0 mM","p":"0.56 mM","t":12,"v":0.13},{"s":"R","c":"1.0 mM","p":"0.56 mM","t":13,"v":0.15},{"s":"R","c":"1.0 mM","p":"0.56 mM","t":14,"v":0.165},{"s":"R","c":"1.0 mM","p":"0.56 mM","t":15,"v":0.18},{"s":"R","c":"1.0 mM","p":"0.56 mM","t":16,"v":0.195},{"s":"R","c":"1.0 mM","p":"0.56 mM","t":17,"v":0.215},{"s":"R","c":"1.0 mM","p":"0.56 mM","t":18,"v":0.235},{"s":"R","c":"1.0 mM","p":"0.56 mM","t":19,"v":0.25},{"s":"R","c":"1.0 mM","p":"0.56 mM","t":20,"v":0.27},{"s":"R","c":"1.0 mM","p":"0.56 mM","t":21,"v":0.29},{"s":"R","c":"1.0 mM","p":"0.56 mM","t":22,"v":0.31},{"s":"R","c":"1.0 mM","p":"0.56 mM","t":23,"v":0.335},{"s":"R","c":"1.0 mM","p":"0.56 mM","t":24,"v":0.36},{"s":"R","c":"1.0 mM","p":"0.56 mM","t":25,"v":0.39},{"s":"R","c":"1.0 mM","p":"0.56 mM","t":26,"v":0.43},{"s":"R","c":"1.0 mM","p":"0.56 mM","t":27,"v":0.47},{"s":"R","c":"1.0 mM","p":"0.56 mM","t":28,"v":0.51},{"s":"R","c":"1.0 mM","p":"0.56 mM","t":29,"v":0.55},{"s":"R","c":"1.0 mM","p":"0.56 mM","t":30,"v":0.58},{"s":"R","c":"1.0 mM","p":"0.56 mM","t":31,"v":0.60},{"s":"R","c":"1.0 mM","p":"0.56 mM","t":32,"v":0.61,"e":0.015},{"s":"R","c":"1.0 mM","p":"0.56 mM","t":33,"v":0.62,"e":0.015},{"s":"R","c":"1.0 mM","p":"0.56 mM","t":34,"v":0.61,"e":0.015},{"s":"R","c":"1.0 mM","p":"0.56 mM","t":35,"v":0.60,"e":0.015},{"s":"R","c":"1.0 mM","p":"0.56 mM","t":36,"v":0.585,"e":0.015},{"s":"R","c":"1.0 mM","p":"0.56 mM","t":37,"v":0.58,"e":0.015},{"s":"R","c":"1.0 mM","p":"0.56 mM","t":38,"v":0.575,"e":0.015},{"s":"R","c":"1.0 mM","p":"0.56 mM","t":39,"v":0.57,"e":0.015},{"s":"R","c":"1.0 mM","p":"0.56 mM","t":40,"v":0.568,"e":0.015},{"s":"R","c":"1.0 mM","p":"0.56 mM","t":41,"v":0.565,"e":0.015},{"s":"R","c":"1.0 mM","p":"0.56 mM","t":42,"v":0.56,"e":0.015},{"s":"R","c":"1.0 mM","p":"0.56 mM","t":43,"v":0.558,"e":0.015},{"s":"R","c":"1.0 mM","p":"0.56 mM","t":44,"v":0.555,"e":0.015},{"s":"R","c":"1.0 mM","p":"0.56 mM","t":45,"v":0.55,"e":0.015},{"s":"R","c":"1.0 mM","p":"0.56 mM","t":46,"v":0.545,"e":0.015},{"s":"R","c":"1.0 mM","p":"0.56 mM","t":47,"v":0.54,"e":0.015},{"s":"R","c":"1.0 mM","p":"0.56 mM","t":48,"v":0.52,"e":0.015}
]},
"hconcat":[
{
  "title":{"text":"Pseudomonas aeruginosa","fontStyle":"italic","fontSize":10.5,"fontWeight":"normal","color":"#222","offset":5,"frame":"group","anchor":"middle"},
  "transform":[{"filter":"datum.s == 'P'"}],
  "width":288,"height":233,
  "encoding":{
    "x":{"field":"t","type":"quantitative","scale":{"domain":[0,50],"nice":false,"padding":0},
      "axis":{"values":[0,25,50],"title":"Time (hours)","grid":false,"domainColor":"#777","domainWidth":1.5,"tickColor":"#777","tickSize":4,"labelColor":"#555","labelFontSize":10,"titleFontSize":10,"titleFontWeight":"normal","titleColor":"#222","titlePadding":3,"labelPadding":2}},
    "y":{"field":"v","type":"quantitative","scale":{"domain":[-0.27,1.27],"nice":false,"zero":false,"padding":0},
      "axis":{"values":[0,0.4,0.8,1.2],"format":".1f","title":"Population density (OD₆₀₀)","grid":false,"domainColor":"#111","domainWidth":1.5,"tickColor":"#777","tickSize":4,"labelColor":"#555","labelFontSize":10,"titleFontSize":10,"titleFontWeight":"normal","titleColor":"#222","titlePadding":4,"labelPadding":2}},
    "color":{"field":"c","type":"nominal",
      "scale":{"domain":["0 mM","0.1 mM","0.3 mM","0.5 mM","1.0 mM"],"range":["#c8c8c8","#6cc4d8","#3c9aa4","#4a8fd0","#1f4263"]},
      "legend":{"orient":"none","legendX":10,"legendY":6,"title":"Added Al³⁺","titleFontWeight":"normal","titleFontSize":10,"titleColor":"#111","titlePadding":4,"labelFontSize":9.5,"labelColor":"#222","symbolType":"circle","symbolSize":60,"symbolOpacity":0.85,"symbolStrokeWidth":0,"rowPadding":-2.5,"labelOffset":4}}
  },
  "layer":[
    {"transform":[{"filter":"isValid(datum.e)"}],
     "mark":{"type":"errorbar","ticks":{"size":4},"thickness":1},
     "encoding":{"yError":{"field":"e"}}},
    {"mark":{"type":"point","filled":true,"size":80,"opacity":0.8,"strokeWidth":0},
     "encoding":{"shape":{"field":"p","type":"nominal",
       "scale":{"domain":["0 mM","0.04 mM","0.13 mM","0.24 mM","0.56 mM"],"range":["circle","circle","circle","circle","circle"]},
       "legend":{"orient":"none","legendX":68,"legendY":6,"title":"Predicted Al³⁺","titleFontWeight":"normal","titleFontSize":10,"titleColor":"#d8342c","titlePadding":4,"labelFontSize":9.5,"labelColor":"#d8342c","symbolOpacity":0,"symbolSize":1,"symbolStrokeWidth":0,"rowPadding":-2.5,"labelOffset":-3}}}}
  ]
},
{
  "title":{"text":"Rhodococcus erythropolis","fontStyle":"italic","fontSize":10.5,"fontWeight":"normal","color":"#222","offset":5,"frame":"group","anchor":"middle"},
  "transform":[{"filter":"datum.s == 'R'"}],
  "width":288,"height":233,
  "encoding":{
    "x":{"field":"t","type":"quantitative","scale":{"domain":[0,50],"nice":false,"padding":0},
      "axis":{"values":[0,25,50],"title":"Time (hours)","grid":false,"domainColor":"#777","domainWidth":1.5,"tickColor":"#777","tickSize":4,"labelColor":"#555","labelFontSize":10,"titleFontSize":10,"titleFontWeight":"normal","titleColor":"#222","titlePadding":3,"labelPadding":2}},
    "y":{"field":"v","type":"quantitative","scale":{"domain":[-0.27,1.27],"nice":false,"zero":false,"padding":0},"axis":null},
    "color":{"field":"c","type":"nominal",
      "scale":{"domain":["0 mM","0.1 mM","0.3 mM","0.5 mM","1.0 mM"],"range":["#c8c8c8","#6cc4d8","#3c9aa4","#4a8fd0","#1f4263"]},
      "legend":{"orient":"none","legendX":10,"legendY":6,"title":"Added Al³⁺","titleFontWeight":"normal","titleFontSize":10,"titleColor":"#111","titlePadding":4,"labelFontSize":9.5,"labelColor":"#222","symbolType":"circle","symbolSize":60,"symbolOpacity":0.85,"symbolStrokeWidth":0,"rowPadding":-2.5,"labelOffset":4}}
  },
  "layer":[
    {"transform":[{"filter":"isValid(datum.e)"}],
     "mark":{"type":"errorbar","ticks":{"size":4},"thickness":1},
     "encoding":{"yError":{"field":"e"}}},
    {"mark":{"type":"point","filled":true,"size":80,"opacity":0.8,"strokeWidth":0},
     "encoding":{"shape":{"field":"p","type":"nominal",
       "scale":{"domain":["0 mM","0.04 mM","0.13 mM","0.24 mM","0.56 mM"],"range":["circle","circle","circle","circle","circle"]},
       "legend":{"orient":"none","legendX":68,"legendY":6,"title":"Predicted Al³⁺","titleFontWeight":"normal","titleFontSize":10,"titleColor":"#d8342c","titlePadding":4,"labelFontSize":9.5,"labelColor":"#d8342c","symbolOpacity":0,"symbolSize":1,"symbolStrokeWidth":0,"rowPadding":-2.5,"labelOffset":-3}}}}
  ]
}
]
}
